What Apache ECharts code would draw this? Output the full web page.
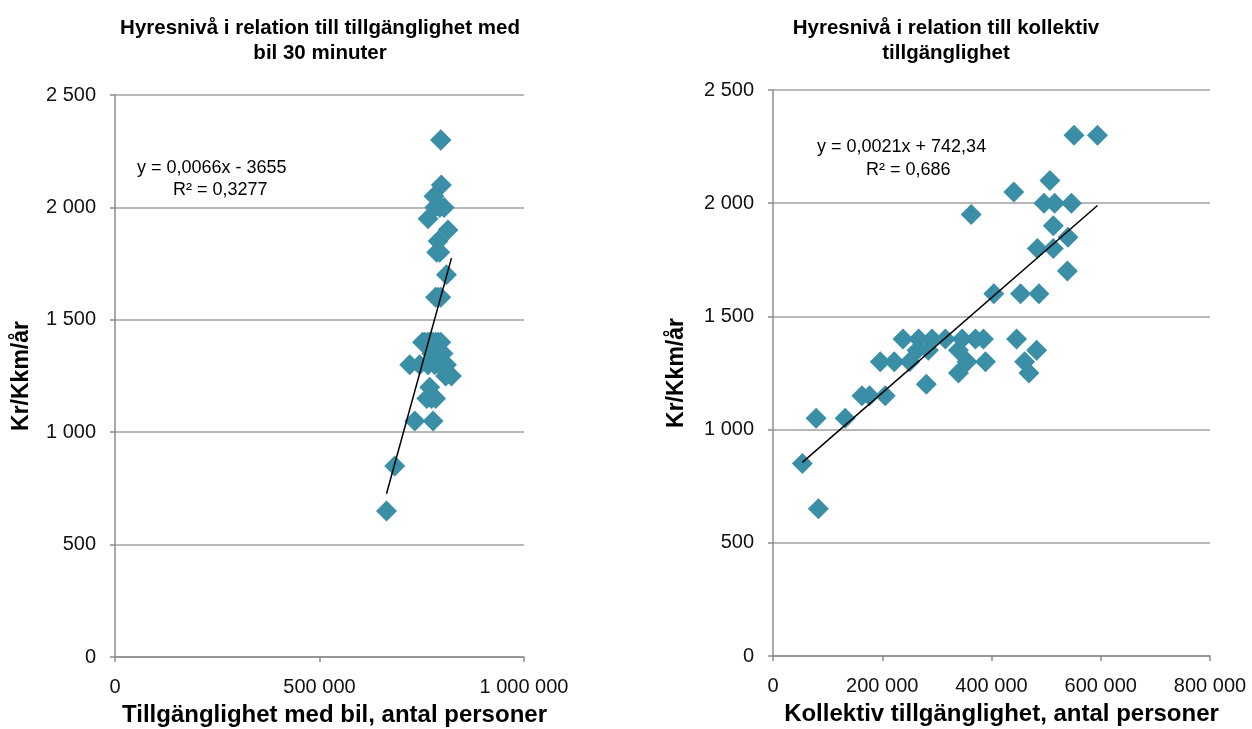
<!DOCTYPE html>
<html>
<head>
<meta charset="utf-8">
<script src="https://cdn.jsdelivr.net/npm/echarts@6/dist/echarts.min.js"></script>
<style>
html,body{margin:0;padding:0;background:#fff;}
#chart{width:1252px;height:729px;}
</style>
</head>
<body>
<div id="chart"></div>
<script>
// Data: one entry per city (rent level, car accessibility 30 min, public transport accessibility)
const rent = [850, 650, 1050, 1050, 1150, 1150, 1150, 1300, 1300, 1400, 1300, 1400, 1350, 1200, 1400, 1350, 1400, 1400, 1350, 1250, 1300, 1400, 1400, 1300, 1600, 1600, 1600, 1400, 1350, 1300, 1250, 2300, 2300, 2100, 2050, 1950, 2000, 2000, 2000, 1900, 1850, 1800, 1800, 1700];
const carAccess = [684000, 663800, 733000, 777600, 762200, 773700, 784000, 720700, 745000, 752000, 765400, 757000, 774400, 769500, 765000, 786600, 770000, 777000, 794000, 808600, 782000, 784000, 790000, 794000, 784000, 790000, 796500, 796500, 802000, 810300, 822600, 796500, 796500, 798000, 780000, 765400, 782000, 804500, 794000, 814000, 790000, 786600, 794000, 810300];
const transitAccess = [53800, 83100, 78900, 132100, 162800, 176700, 205500, 196400, 222000, 238000, 250100, 266600, 263700, 280700, 291200, 284400, 315600, 346200, 339500, 339500, 355400, 370600, 385300, 389000, 404200, 453200, 486800, 445900, 482600, 460600, 468500, 551000, 594000, 507000, 440900, 362800, 496000, 515600, 546200, 513200, 540000, 483900, 513200, 538900];
// Trend line coefficients as shown in the chart
const carTrend = {slope: 0.0066, intercept: -3655, label1: 'y = 0,0066x - 3655', label2: 'R² = 0,3277'};
const transitTrend = {slope: 0.0021, intercept: 742.34, label1: 'y = 0,0021x + 742,34', label2: 'R² = 0,686'};
const yTicks = {min: 0, max: 2500, interval: 500};
const carXAxis = {min: 0, max: 1000000, interval: 500000};
const transitXAxis = {min: 0, max: 800000, interval: 200000};

const pointColor = '#3a8ea6';
const fmt = v => String(Math.round(v)).replace(/\B(?=(\d{3})+(?!\d))/g, ' ');
const pairs = (xs) => xs.map((x, i) => [x, rent[i]]);
const trendLine = (xs, t) => {
  const lo = Math.min(...xs), hi = Math.max(...xs);
  return [[lo, t.slope * lo + t.intercept], [hi, t.slope * hi + t.intercept]];
};

const font = '"Liberation Sans", Arial, sans-serif';
function yAxisCfg(gridIndex, gap) {
  return {
    gridIndex, type: 'value', min: yTicks.min, max: yTicks.max, interval: yTicks.interval,
    name: 'Kr/Kkm/år', nameLocation: 'middle', nameGap: gap, nameRotate: 90,
    nameTextStyle: {fontFamily: font, fontWeight: 'bold', fontSize: 23, color: '#000'},
    axisLine: {show: true, lineStyle: {color: '#8c8c8c', width: 1.5}},
    axisTick: {show: true, length: 5, lineStyle: {color: '#8c8c8c', width: 1.5}},
    splitLine: {show: true, lineStyle: {color: '#a0a0a0', width: 1.5}},
    axisLabel: {fontFamily: font, fontSize: 20, color: '#111', margin: 19, formatter: fmt}
  };
}
function xAxisCfg(gridIndex, ax, name, shift) {
  return {
    gridIndex, type: 'value', min: ax.min, max: ax.max, interval: ax.interval,
    name, nameLocation: 'middle', nameGap: 46,
    nameTextStyle: {fontFamily: font, fontWeight: 'bold', fontSize: 24, color: '#000', padding: [0, 0, 0, shift]},
    axisLine: {show: true, onZero: false, lineStyle: {color: '#8c8c8c', width: 1.5}},
    axisTick: {show: true, length: 5, lineStyle: {color: '#8c8c8c', width: 1.5}},
    splitLine: {show: false},
    axisLabel: {fontFamily: font, fontSize: 20, color: '#111', margin: 20, formatter: fmt}
  };
}

const chart = echarts.init(document.getElementById('chart'), null, {renderer: 'canvas'});
chart.setOption({
  backgroundColor: '#fff',
  animation: false,
  title: [
    {text: 'Hyresnivå i relation till tillgänglighet med\nbil 30 minuter', left: 315, top: 11, textAlign: 'center',
     textStyle: {fontFamily: font, fontWeight: 'bold', fontSize: 20.5, lineHeight: 25, color: '#000'}},
    {text: 'Hyresnivå i relation till kollektiv\ntillgänglighet', left: 941, top: 11, textAlign: 'center',
     textStyle: {fontFamily: font, fontWeight: 'bold', fontSize: 20.5, lineHeight: 25, color: '#000'}}
  ],
  grid: [
    {left: 115, top: 95, width: 409, height: 562, containLabel: false, outerBoundsMode: 'none'},
    {left: 773, top: 90, width: 437, height: 566, containLabel: false, outerBoundsMode: 'none'}
  ],
  xAxis: [
    xAxisCfg(0, carXAxis, 'Tillgänglighet med bil, antal personer', 30),
    xAxisCfg(1, transitXAxis, 'Kollektiv tillgänglighet, antal personer', 20)
  ],
  yAxis: [yAxisCfg(0, 82), yAxisCfg(1, 85)],
  series: [
    {type: 'scatter', xAxisIndex: 0, yAxisIndex: 0, data: pairs(carAccess), symbol: 'diamond', symbolSize: 21,
     itemStyle: {color: pointColor, opacity: 1}},
    {type: 'line', xAxisIndex: 0, yAxisIndex: 0, data: trendLine(carAccess, carTrend), showSymbol: false, symbol: 'none',
     lineStyle: {color: '#000', width: 1.5}, z: 5},
    {type: 'scatter', xAxisIndex: 1, yAxisIndex: 1, data: pairs(transitAccess), symbol: 'diamond', symbolSize: 21,
     itemStyle: {color: pointColor, opacity: 1}},
    {type: 'line', xAxisIndex: 1, yAxisIndex: 1, data: trendLine(transitAccess, transitTrend), showSymbol: false, symbol: 'none',
     lineStyle: {color: '#000', width: 1.5}, z: 5}
  ],
  graphic: [
    {type: 'text', left: 137, top: 159, style: {text: carTrend.label1, font: '18px ' + font, fill: '#000'}},
    {type: 'text', left: 173, top: 181, style: {text: carTrend.label2, font: '18px ' + font, fill: '#000'}},
    {type: 'text', left: 817, top: 138, style: {text: transitTrend.label1, font: '18px ' + font, fill: '#000'}},
    {type: 'text', left: 866, top: 161, style: {text: transitTrend.label2, font: '18px ' + font, fill: '#000'}}
  ]
});
</script>
</body>
</html>
